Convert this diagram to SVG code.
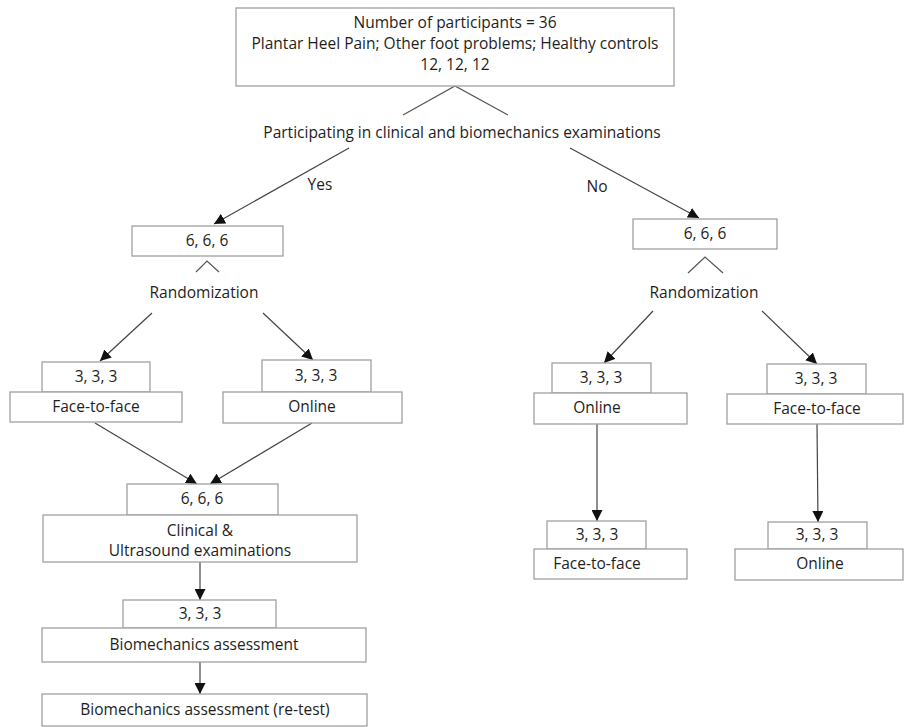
<svg xmlns="http://www.w3.org/2000/svg" width="904" height="727" viewBox="0 0 904 727">
<defs>
<marker id="ah" viewBox="0 0 10 10" refX="10" refY="5" markerWidth="11" markerHeight="11" markerUnits="userSpaceOnUse" orient="auto">
<path d="M0,0 L10,5 L0,10 Z" fill="#111"/>
</marker>
<style>
.box{fill:#fff;stroke:#a0a0a0;stroke-width:1.3}
.t{font-family:"Open Sans","Liberation Sans",sans-serif;font-size:15.5px;fill:#1e1e1e;text-anchor:middle}
.c{fill:none;stroke:#555;stroke-width:1.2}
.a{fill:none;stroke:#444;stroke-width:1.2;marker-end:url(#ah)}
</style>
</defs>
<rect width="904" height="727" fill="#fff"/>

<g id="connectors">
<polyline class="c" points="403,115 455,86 508,115"/>
<line class="a" x1="349" y1="148" x2="214" y2="224"/>
<line class="a" x1="570" y1="148" x2="699" y2="218"/>
<polyline class="c" points="196,272 207,261 219,272"/>
<line class="a" x1="152" y1="313" x2="100" y2="361"/>
<line class="a" x1="263" y1="313" x2="313" y2="360"/>
<polyline class="c" points="688,273 705,257 723,273"/>
<line class="a" x1="653" y1="311" x2="604" y2="363"/>
<line class="a" x1="762" y1="311" x2="817" y2="364"/>
<line class="a" x1="95" y1="423" x2="197" y2="484"/>
<line class="a" x1="312" y1="423" x2="210" y2="484"/>
<line class="a" x1="200" y1="562" x2="200" y2="600"/>
<line class="a" x1="200" y1="662" x2="200" y2="694"/>
<line class="a" x1="597" y1="424" x2="597" y2="521"/>
<line class="a" x1="817" y1="424" x2="818" y2="522"/>
</g>

<g id="n-top">
<rect class="box" x="236" y="8" width="438" height="78"/>
<text class="t" x="455" y="28">Number of participants = 36</text>
<text class="t" x="455" y="49">Plantar Heel Pain; Other foot problems; Healthy controls</text>
<text class="t" x="455" y="70">12, 12, 12</text>
</g>

<g id="l-question">
<text class="t" x="462" y="138">Participating in clinical and biomechanics examinations</text>
</g>
<g id="l-yes"><text class="t" x="320" y="190">Yes</text></g>
<g id="l-no"><text class="t" x="597" y="192">No</text></g>

<g id="n-yes666">
<rect class="box" x="132" y="226" width="151" height="30"/>
<text class="t" x="207" y="246">6, 6, 6</text>
</g>
<g id="l-rand-left"><text class="t" x="204" y="298">Randomization</text></g>

<g id="n-no666">
<rect class="box" x="633" y="219" width="144" height="30"/>
<text class="t" x="705" y="239">6, 6, 6</text>
</g>
<g id="l-rand-right"><text class="t" x="704" y="298">Randomization</text></g>

<g id="n-l-f2f">
<rect class="box" x="42" y="362" width="108" height="30"/>
<text class="t" x="96" y="382">3, 3, 3</text>
<rect class="box" x="10" y="392" width="172" height="30"/>
<text class="t" x="96" y="412">Face-to-face</text>
</g>

<g id="n-l-online">
<rect class="box" x="262" y="360" width="109" height="32"/>
<text class="t" x="316" y="381">3, 3, 3</text>
<rect class="box" x="223" y="392" width="179" height="31"/>
<text class="t" x="312" y="412">Online</text>
</g>

<g id="n-merge">
<rect class="box" x="127" y="484" width="151" height="31"/>
<text class="t" x="202" y="504">6, 6, 6</text>
<rect class="box" x="43" y="515" width="314" height="47"/>
<text class="t" x="200" y="536">Clinical &amp;</text>
<text class="t" x="200" y="556">Ultrasound examinations</text>
</g>

<g id="n-biomech">
<rect class="box" x="123" y="600" width="153" height="28"/>
<text class="t" x="200" y="619">3, 3, 3</text>
<rect class="box" x="42" y="628" width="324" height="34"/>
<text class="t" x="204" y="650">Biomechanics assessment</text>
</g>

<g id="n-retest">
<rect class="box" x="42" y="694" width="325" height="32"/>
<text class="t" x="205" y="715">Biomechanics assessment (re-test)</text>
</g>

<g id="n-r-online">
<rect class="box" x="552" y="363" width="99" height="30"/>
<text class="t" x="601" y="383">3, 3, 3</text>
<rect class="box" x="534" y="393" width="153" height="31"/>
<text class="t" x="597" y="413">Online</text>
</g>

<g id="n-r-f2f">
<rect class="box" x="767" y="364" width="99" height="30"/>
<text class="t" x="816" y="384">3, 3, 3</text>
<rect class="box" x="727" y="394" width="176" height="30"/>
<text class="t" x="817" y="414">Face-to-face</text>
</g>

<g id="n-r-f2f2">
<rect class="box" x="547" y="521" width="99" height="28"/>
<text class="t" x="597" y="540">3, 3, 3</text>
<rect class="box" x="534" y="549" width="153" height="30"/>
<text class="t" x="597" y="569">Face-to-face</text>
</g>

<g id="n-r-online2">
<rect class="box" x="768" y="522" width="99" height="27"/>
<text class="t" x="817" y="540">3, 3, 3</text>
<rect class="box" x="735" y="549" width="168" height="31"/>
<text class="t" x="820" y="569">Online</text>
</g>
</svg>
